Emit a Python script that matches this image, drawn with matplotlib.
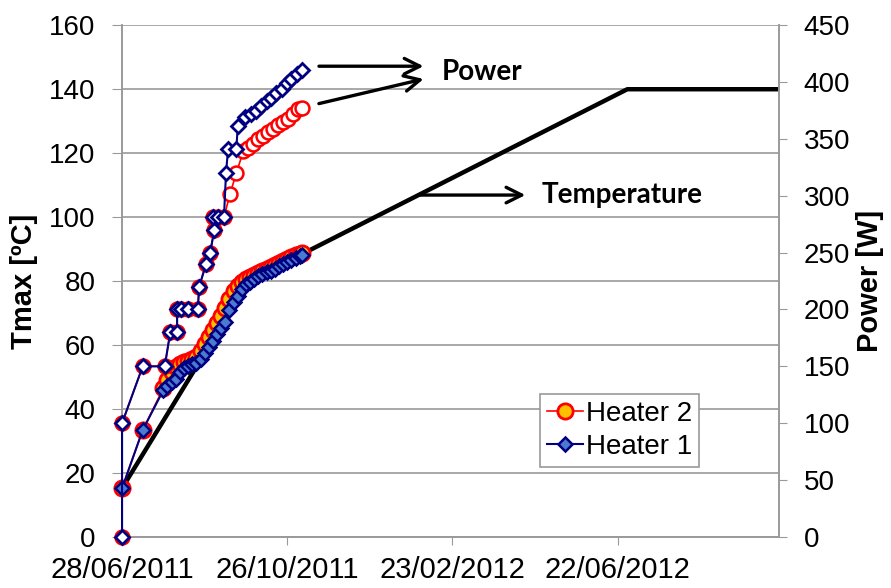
import matplotlib
matplotlib.use('Agg')
import matplotlib.pyplot as plt
import matplotlib.dates as mdates
from datetime import datetime, timedelta

start = datetime(2011, 6, 28)

# temperature, days after 28/06/2011
temp_days = [0, 15, 30, 33, 36, 39, 42, 45, 48, 51, 54, 57, 60, 63, 66, 69, 72, 75, 78,
             81, 84, 87, 90, 93, 96, 99, 102, 105, 108, 111, 114, 117, 120, 123, 126, 129, 131]
temp_h1 = [15.2, 33.4, 45.9, 47.2, 48.3, 49.3, 51.5, 52.7, 53.5, 54.0, 54.4, 55.5, 57.4, 59.5,
           61.4, 63.3, 65.2, 67.2, 71.0, 73.4, 75.4, 77.4, 79.0, 79.7, 80.8, 81.6, 82.1, 82.7,
           83.1, 83.9, 84.6, 85.4, 86.1, 86.6, 87.1, 87.7, 88.1]
temp_h2 = [15.2, 33.4, 46.5, 49.0, 51.5, 53.0, 54.0, 54.6, 55.0, 55.5, 56.3, 58.0, 60.2, 62.5,
           64.6, 66.8, 69.0, 71.5, 74.5, 77.0, 78.6, 79.6, 80.5, 81.3, 82.0, 82.6, 83.2, 83.8,
           84.3, 85.0, 85.6, 86.3, 86.9, 87.4, 88.0, 88.5, 88.9]

# planned temperature (black line), two pieces
plan_a_days = [0, 54]
plan_a_temp = [15.2, 53.2]
plan_b_days = [131, 367, 477]
plan_b_temp = [88.5, 140, 140]

# power
pow1_days = [0, 0, 15, 31, 35, 40, 40, 43, 48, 55, 56, 61, 64, 67, 66, 70, 74, 75.5, 77, 83,
             84, 89, 94, 97.5, 101, 105, 108.5, 112, 116, 119.5, 123, 127, 130.5]
pow1_w = [0, 100, 150, 150, 180, 180, 200, 200, 200, 200, 220, 240, 250, 270, 281, 281, 281,
          320, 341, 341, 361, 369, 372, 375, 379, 383, 386, 390, 394, 399, 403, 407, 411]
pow2_days = [0, 0, 15, 31, 35, 40, 40, 43, 48, 55, 56, 61, 64, 67, 66, 70, 74, 78.5, 83, 88,
             91.5, 95, 99, 102.5, 106, 110, 113.5, 117, 120.5, 124, 128, 130.5]
pow2_w = [0, 100, 150, 150, 180, 180, 200, 200, 200, 200, 220, 240, 250, 270, 281, 281, 281,
          302, 320, 339, 342, 346, 350, 353, 356, 359, 362, 365, 368, 372, 376, 377]

xtick_days = [0, 120, 240, 360]
x_end = 477


def to_dates(days):
    return [start + timedelta(days=d) for d in days]


plt.rcParams['font.family'] = ['Liberation Sans', 'DejaVu Sans']

fig, ax = plt.subplots(figsize=(8.91, 5.88), dpi=100)
fig.subplots_adjust(left=0.137, right=0.874, bottom=0.087, top=0.957)
ax2 = ax.twinx()

red = '#FF0000'
navy = '#000080'

# power (right axis)
ax2.plot(to_dates(pow2_days), pow2_w, '-o', color=red, lw=1.2, ms=10,
         mfc='white', mec=red, mew=1.8, zorder=3, clip_on=False)
ax2.plot(to_dates(pow1_days), pow1_w, '-D', color=navy, lw=1.5, ms=7.5,
         mfc='white', mec=navy, mew=2, zorder=4, clip_on=False)

# temperature (left axis)
ax.plot(to_dates(plan_a_days), plan_a_temp, color='black', lw=3.2, zorder=2)
ax.plot(to_dates(plan_b_days), plan_b_temp, color='black', lw=3.2, zorder=2)
h2, = ax.plot(to_dates(temp_days), temp_h2, '-o', color=red, lw=1.2, ms=11,
              mfc='#FFC000', mec=red, mew=2, label='Heater 2', zorder=3, clip_on=False)
h1, = ax.plot(to_dates(temp_days), temp_h1, '-D', color=navy, lw=1.5, ms=7.5,
              mfc='#4A7BD0', mec=navy, mew=1.8, label='Heater 1', zorder=4, clip_on=False)

ax.set_xlim(start, start + timedelta(days=x_end))
ax.set_ylim(0, 160)
ax.set_yticks(range(0, 161, 20))
ax2.set_ylim(0, 450)
ax2.set_yticks(range(0, 451, 50))
ax.set_xticks(to_dates(xtick_days))
ax.xaxis.set_major_formatter(mdates.DateFormatter('%d/%m/%Y'))

ax.grid(axis='y', color='#9a9a9a', lw=1.2)
ax.set_axisbelow(True)
for a in (ax, ax2):
    a.spines['top'].set_visible(False)
    for s in ('left', 'right', 'bottom'):
        a.spines[s].set_color('#9a9a9a')
        a.spines[s].set_linewidth(1.2)
ax.tick_params(axis='y', direction='out', length=7, color='#9a9a9a', labelsize=20, pad=12)
ax.tick_params(axis='x', direction='out', length=6, color='#9a9a9a', labelsize=21, pad=8)
ax2.tick_params(axis='y', direction='out', length=6, color='#9a9a9a', labelsize=20, pad=12)

ax.set_ylabel('Tmax [ºC]', fontsize=21, fontweight='bold', labelpad=8)
ax2.set_ylabel('Power [W]', fontsize=21, fontweight='bold', labelpad=4)

leg = ax.legend(handles=[h2, h1], loc='lower left', bbox_to_anchor=(0.636, 0.137),
                borderaxespad=0, fontsize=20, fancybox=False, framealpha=1,
                edgecolor='#9a9a9a', handlelength=1.3, handletextpad=0.1,
                labelspacing=0.25, borderpad=0.25)
leg.get_frame().set_linewidth(1.2)

# annotations
arrow = dict(arrowstyle='->', color='black', lw=2.4, mutation_scale=28)
ax.annotate('', xy=(start + timedelta(days=221), 147.2),
            xytext=(start + timedelta(days=141), 147.2), arrowprops=arrow)
ax.annotate('', xy=(start + timedelta(days=221), 143.4),
            xytext=(start + timedelta(days=141), 135.3), arrowprops=arrow)
ax.annotate('', xy=(start + timedelta(days=295), 106.9),
            xytext=(start + timedelta(days=214), 106.9), arrowprops=arrow)
ax.text(start + timedelta(days=232), 145.3, 'Power', fontsize=20, fontweight='bold',
        family=['Lato', 'DejaVu Sans'], va='center', ha='left')
ax.text(start + timedelta(days=305), 106.9, 'Temperature', fontsize=20, fontweight='bold',
        family=['Lato', 'DejaVu Sans'], va='center', ha='left')

plt.savefig('out.png', dpi=100)
